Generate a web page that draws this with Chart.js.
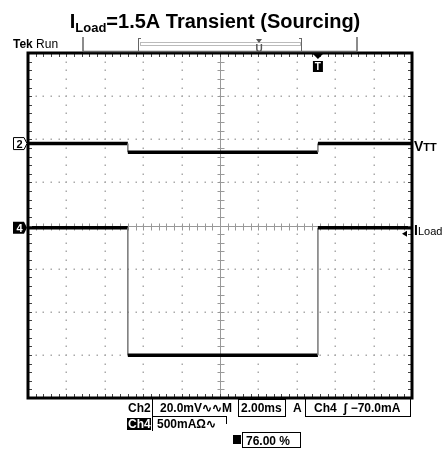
<!DOCTYPE html>
<html>
<head>
<meta charset="utf-8">
<script src="https://cdn.jsdelivr.net/npm/chart.js@4.4.1/dist/chart.umd.min.js"></script>
<style>
html, body { margin: 0; padding: 0; background: #fff; }
canvas { display: block; }
</style>
</head>
<body>
<canvas id="scope" width="443" height="450"></canvas>
<script>
// levels (time in ms)
const timeMs = [0, 5.2, 5.2, 15.1, 15.1, 20];
const vttMv  = [0, 0, -4, -4, 0, 0];
const iloadA = [0, 0, -1.48, -1.48, 0, 0];

// scope settings from the readout
const timePerDiv = 2;     // ms
const ch2PerDiv = 20;     // mV
const ch4PerDiv = 0.5;    // A
const ch2Pos = 1.9;       // div above centre
const ch4Pos = -0.05;
const trigLevelA = -0.07;
const trigTimeMs = 15.1;
const xDivs = 10, yDivs = 8, minor = 5;

const FONT = '"Liberation Sans", Arial, sans-serif';

function points(ys) {
    return timeMs.map((t, i) => ({ x: t, y: ys[i] }));
}

// the fast edges show up as thin grey lines
const edgeStyle = {
    borderColor: ctx => ctx.p0.parsed.x === ctx.p1.parsed.x ? '#777' : '#000',
    borderWidth: ctx => ctx.p0.parsed.x === ctx.p1.parsed.x ? 1.5 : 3.5
};

function drawText(ctx, parts, x, y, align) {
    // parts: [text, font, dy]
    let w = 0;
    parts.forEach(p => { ctx.font = p[1]; w += ctx.measureText(p[0]).width; });
    let cx = align === 'center' ? x - w / 2 : x;
    ctx.textAlign = 'left';
    ctx.textBaseline = 'alphabetic';
    parts.forEach(p => {
        ctx.font = p[1];
        ctx.fillText(p[0], cx, y + (p[2] || 0));
        cx += ctx.measureText(p[0]).width;
    });
}

function line(ctx, x1, y1, x2, y2) {
    ctx.beginPath();
    ctx.moveTo(x1, y1);
    ctx.lineTo(x2, y2);
    ctx.stroke();
}

const graticule = {
    id: 'graticule',
    beforeDatasetsDraw(chart) {
        const ctx = chart.ctx;
        const X = v => chart.scales.x.getPixelForValue(v);
        const D = v => chart.scales.div.getPixelForValue(v);
        const a = chart.chartArea;
        ctx.save();
        ctx.fillStyle = '#aaa';
        for (let i = 1; i < xDivs; i++) {
            if (i === xDivs / 2) continue;
            const x = Math.round(X(i * timePerDiv));
            for (let j = 0; j <= yDivs * minor; j++) {
                ctx.fillRect(x - 0.5, Math.round(D(-yDivs / 2 + j / minor)) - 0.5, 1.5, 1.5);
            }
        }
        for (let j = 1; j < yDivs; j++) {
            if (j === yDivs / 2) continue;
            const y = Math.round(D(-yDivs / 2 + j));
            for (let i = 0; i <= xDivs * minor; i++) {
                ctx.fillRect(Math.round(X(i * timePerDiv / minor)) - 0.5, y - 0.5, 1.5, 1.5);
            }
        }
        // centre lines with minor ticks
        const xc = Math.round(X(xDivs / 2 * timePerDiv)) + 0.5;
        const yc = Math.round(D(0)) + 0.5;
        ctx.strokeStyle = '#999';
        ctx.lineWidth = 1;
        line(ctx, xc, a.top, xc, a.bottom);
        line(ctx, a.left, yc, a.right, yc);
        for (let j = 0; j <= yDivs * minor; j++) {
            const y = Math.round(D(-yDivs / 2 + j / minor)) + 0.5;
            line(ctx, xc - 3, y, xc + 4, y);
        }
        for (let i = 0; i <= xDivs * minor; i++) {
            const x = Math.round(X(i * timePerDiv / minor)) + 0.5;
            line(ctx, x, yc - 3, x, yc + 4);
        }
        ctx.restore();
    },
    afterDatasetsDraw(chart) {
        const ctx = chart.ctx;
        const X = v => chart.scales.x.getPixelForValue(v);
        const D = v => chart.scales.div.getPixelForValue(v);
        const a = chart.chartArea;
        ctx.save();

        // frame ticks
        ctx.strokeStyle = '#444';
        ctx.lineWidth = 1;
        for (let i = 0; i <= xDivs * minor; i++) {
            const x = Math.round(X(i * timePerDiv / minor)) + 0.5;
            line(ctx, x, a.top, x, a.top + 4);
            line(ctx, x, a.bottom - 4, x, a.bottom);
        }
        for (let j = 0; j <= yDivs * minor; j++) {
            const y = Math.round(D(-yDivs / 2 + j / minor)) + 0.5;
            line(ctx, a.left, y, a.left + 4, y);
            line(ctx, a.right - 4, y, a.right, y);
        }
        // frame
        ctx.strokeStyle = '#000';
        ctx.lineWidth = 3;
        ctx.strokeRect(a.left, a.top, a.right - a.left, a.bottom - a.top);

        // title
        ctx.fillStyle = '#000';
        drawText(ctx, [
            ['I', 'bold 20px ' + FONT],
            ['Load', 'bold 13px ' + FONT, 4],
            ['=1.5A Transient (Sourcing)', 'bold 20px ' + FONT]
        ], 215, 28, 'center');

        // status line and record bar
        drawText(ctx, [['Tek', 'bold 12px ' + FONT], [' Run', '12px ' + FONT]], 13, 48);
        ctx.strokeStyle = '#666';
        ctx.lineWidth = 1.5;
        line(ctx, 83, 37, 83, 52);
        line(ctx, 357, 37, 357, 52);
        line(ctx, 83, 51.5, 357, 51.5);
        ctx.lineWidth = 1;
        line(ctx, 138.5, 38, 138.5, 52);
        line(ctx, 138.5, 38.5, 141, 38.5);
        line(ctx, 301.5, 38, 301.5, 52);
        line(ctx, 301.5, 38.5, 299, 38.5);
        ctx.strokeStyle = '#bbb';
        ctx.strokeRect(140.5, 42.5, 160, 3);
        ctx.fillStyle = '#555';
        ctx.beginPath();
        ctx.moveTo(256, 39); ctx.lineTo(262, 39); ctx.lineTo(259, 43); ctx.fill();
        ctx.font = 'bold 10px ' + FONT;
        ctx.textAlign = 'center';
        ctx.fillText('U', 259, 52);

        // trigger position marker
        const xt = X(trigTimeMs);
        ctx.fillStyle = '#000';
        ctx.beginPath();
        ctx.moveTo(xt - 6, a.top); ctx.lineTo(xt + 6, a.top); ctx.lineTo(xt, a.top + 6); ctx.fill();
        ctx.fillRect(xt - 5, a.top + 8, 10, 11);
        ctx.fillStyle = '#fff';
        ctx.font = 'bold 10px ' + FONT;
        ctx.fillText('T', xt, a.top + 17);

        // channel ground markers
        const y2 = chart.scales.yV.getPixelForValue(0);
        const y4 = chart.scales.yI.getPixelForValue(0);
        ctx.lineWidth = 1;
        ctx.strokeStyle = '#000';
        ctx.fillStyle = '#fff';
        ctx.beginPath();
        ctx.moveTo(13.5, y2 - 6); ctx.lineTo(24, y2 - 6); ctx.lineTo(27, y2); ctx.lineTo(24, y2 + 6); ctx.lineTo(13.5, y2 + 6);
        ctx.closePath(); ctx.fill(); ctx.stroke();
        ctx.fillStyle = '#000';
        ctx.beginPath();
        ctx.moveTo(13, y4 - 6); ctx.lineTo(24, y4 - 6); ctx.lineTo(27, y4); ctx.lineTo(24, y4 + 6); ctx.lineTo(13, y4 + 6);
        ctx.closePath(); ctx.fill();
        ctx.font = 'bold 11px ' + FONT;
        ctx.textAlign = 'center';
        ctx.fillText('2', 19.5, y2 + 4);
        ctx.fillStyle = '#fff';
        ctx.fillText('4', 19.5, y4 + 4);

        // trigger level arrow
        const yl = chart.scales.yI.getPixelForValue(trigLevelA);
        ctx.fillStyle = '#000';
        ctx.beginPath();
        ctx.moveTo(a.right - 10, yl); ctx.lineTo(a.right - 5, yl - 3); ctx.lineTo(a.right - 5, yl + 3); ctx.fill();

        // trace labels
        drawText(ctx, [['V', 'bold 14px ' + FONT], ['TT', 'bold 11px ' + FONT]], 414, y2 + 7);
        drawText(ctx, [['I', 'bold 14px ' + FONT], ['Load', '11px ' + FONT]], 414, y4 + 7);

        // readouts
        ctx.fillStyle = '#000';
        const rf = 'bold 12px ' + FONT;
        drawText(ctx, [['Ch2', rf]], 128, 412);
        drawText(ctx, [['20.0mV\u223F\u223FM', rf]], 160, 412);
        drawText(ctx, [['2.00ms', rf]], 241, 412);
        drawText(ctx, [['A', rf]], 293, 412);
        drawText(ctx, [['Ch4  \u0283 \u221270.0mA', rf]], 314, 412);
        ctx.fillRect(127, 418, 24, 12);
        ctx.fillStyle = '#fff';
        drawText(ctx, [['Ch4', rf]], 128, 428);
        ctx.fillStyle = '#000';
        drawText(ctx, [['500mA\u03A9\u223F', rf]], 157, 428);
        ctx.fillRect(233, 435, 8, 9);
        drawText(ctx, [['76.00 %', rf]], 246, 445);

        ctx.strokeStyle = '#000';
        ctx.lineWidth = 1;
        line(ctx, 152.5, 399, 152.5, 431);
        line(ctx, 152, 416.5, 227, 416.5);
        line(ctx, 226.5, 416, 226.5, 424);
        ctx.strokeRect(238.5, 399.5, 47, 17);
        line(ctx, 305.5, 399, 305.5, 417);
        line(ctx, 305, 416.5, 411, 416.5);
        line(ctx, 410.5, 399, 410.5, 417);
        ctx.strokeRect(242.5, 432.5, 58, 15);

        ctx.restore();
    }
};

new Chart(document.getElementById('scope'), {
    type: 'line',
    data: {
        datasets: [
            {
                label: 'VTT',
                data: points(vttMv),
                yAxisID: 'yV',
                borderColor: '#000',
                borderWidth: 3.5,
                pointRadius: 0,
                segment: edgeStyle
            },
            {
                label: 'ILoad',
                data: points(iloadA),
                yAxisID: 'yI',
                borderColor: '#000',
                borderWidth: 3.5,
                pointRadius: 0,
                segment: edgeStyle
            }
        ]
    },
    options: {
        responsive: false,
        animation: false,
        layout: { padding: { left: 28, right: 31, top: 53, bottom: 52 } },
        plugins: {
            legend: { display: false },
            tooltip: { enabled: false }
        },
        scales: {
            x: { type: 'linear', axis: 'x', min: 0, max: timePerDiv * xDivs, display: false },
            div: { type: 'linear', axis: 'y', min: -yDivs / 2, max: yDivs / 2, display: false },
            yV: {
                type: 'linear', axis: 'y', display: false,
                min: (-yDivs / 2 - ch2Pos) * ch2PerDiv,
                max: (yDivs / 2 - ch2Pos) * ch2PerDiv
            },
            yI: {
                type: 'linear', axis: 'y', display: false,
                min: (-yDivs / 2 - ch4Pos) * ch4PerDiv,
                max: (yDivs / 2 - ch4Pos) * ch4PerDiv
            }
        }
    },
    plugins: [graticule]
});
</script>
</body>
</html>
